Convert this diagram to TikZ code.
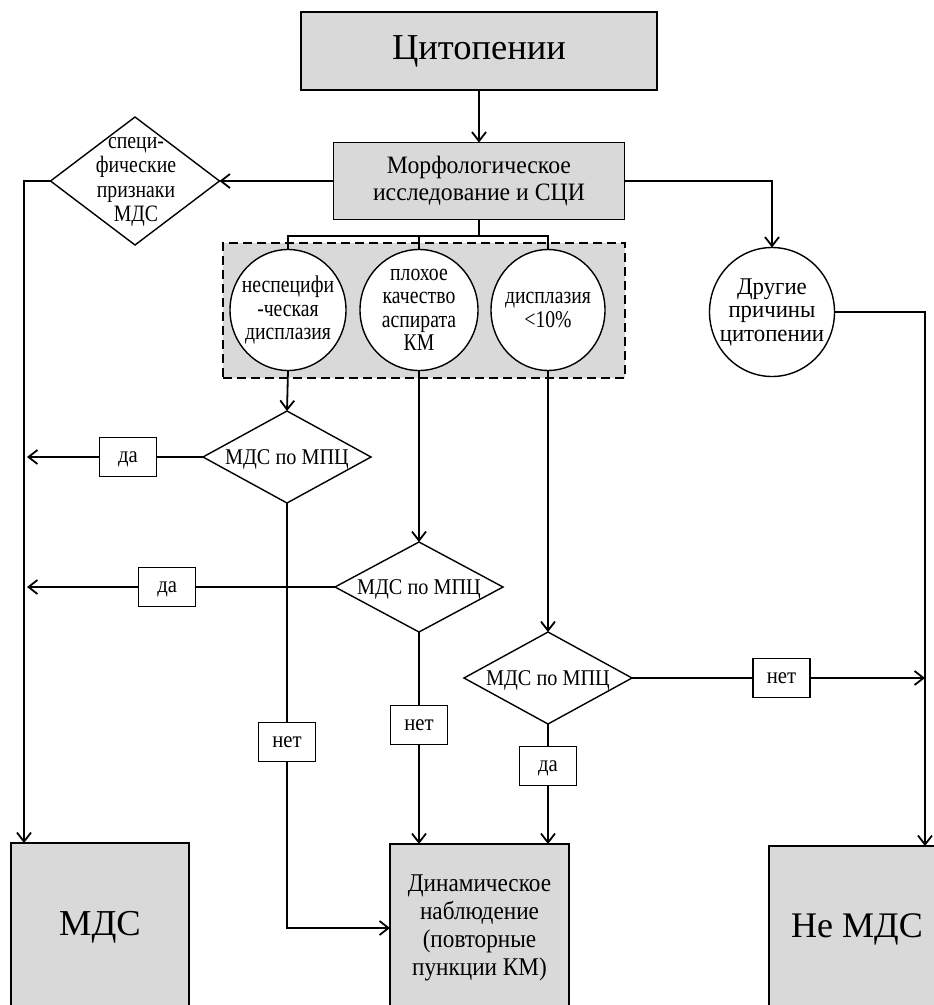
\documentclass[tikz,border=0pt]{standalone}
\usepackage{fontspec}
\setmainfont{Liberation Serif}
\newfontfamily\fmorph[FakeStretch=0.95]{Liberation Serif}
\newfontfamily\fcirc[FakeStretch=0.82]{Liberation Serif}
\newfontfamily\fcircw[FakeStretch=0.95]{Liberation Serif}
\newfontfamily\fdia[FakeStretch=0.9]{Liberation Serif}
\newfontfamily\fspec[FakeStretch=0.84]{Liberation Serif}
\newfontfamily\fdyn[FakeStretch=0.91]{Liberation Serif}
\usetikzlibrary{shapes.geometric,arrows.meta}
\definecolor{boxgray}{HTML}{D9D9D9}
\begin{document}
\begin{tikzpicture}[x=1pt,y=-1pt,
  box/.style={draw=black,line width=1.6pt,fill=boxgray,inner sep=0pt,outer sep=0pt,align=center},
  dia/.style={diamond,draw=black,line width=1.4pt,fill=white,inner sep=0pt,outer sep=0pt},
  circ/.style={ellipse,draw=black,line width=1.4pt,fill=white,inner sep=0pt,outer sep=0pt},
  ctxt/.style={align=center,inner sep=0pt,font=\fcirc\fontsize{24}{23.5}\selectfont},
  dtxt/.style={align=center,inner sep=0pt,text height=15pt,text depth=0pt,font=\fdia\fontsize{22.5}{24}\selectfont},
  lbl/.style={draw=black,fill=white,line width=1.3pt,minimum width=57pt,minimum height=39pt,inner sep=0pt,text height=10.5pt,text depth=0pt,font=\fdia\fontsize{23}{24}\selectfont},
  conn/.style={line width=1.8pt},
  arr/.style={line width=1.8pt,-{Straight Barb[length=9pt,width=14pt]}},
  grp/.style={draw=black,dash pattern=on 9pt off 5pt,line width=1.4pt,fill=boxgray,inner sep=0pt}
]
\clip (0,0) rectangle (934,1005);
\fill[white] (0,0) rectangle (934,1005);
\coordinate (lx) at (27,0);
\coordinate (rx) at (925,0);
% boxes
\node[box,minimum width=356pt,minimum height=78pt,font=\fontsize{36.5}{40}\selectfont] (top) at (479,51) {Цитопении};
\node[box,minimum width=291pt,minimum height=77pt,font=\fmorph\fontsize{25}{26.7}\selectfont] (morph) at (479,181) {Морфологическое\\исследование и СЦИ};
\node[box,minimum width=178pt,minimum height=169pt,font=\fontsize{36.5}{40}\selectfont] (mds) at (100,927.5) {МДС};
\node[box,minimum width=179pt,minimum height=168pt,font=\fdyn\fontsize{25.5}{28}\selectfont] (dyn) at (479.5,928) {Динамическое\\наблюдение\\(повторные\\пункции КМ)};
\node[box,minimum width=176pt,minimum height=166pt,font=\fontsize{36}{40}\selectfont] (nmds) at (857,929) {Не МДС};
% group
\node[grp,minimum width=402pt,minimum height=135pt] (grp) at (424,310.5) {};
% circles
\node[circ,minimum width=116pt,minimum height=121pt] (c1) at (288,310) {};
\node[ctxt] at (c1) {неспецифи\\-ческая\\дисплазия};
\node[circ,minimum width=118pt,minimum height=121pt] (c2) at (419,310) {};
\node[ctxt] at (c2) {плохое\\качество\\аспирата\\КМ};
\node[circ,minimum width=114pt,minimum height=121pt] (c3) at (548,310) {};
\node[ctxt] at (c3) {дисплазия\\<10\%};
\node[circ,minimum width=125pt,minimum height=129pt] (c4) at (772,312) {};
\node[ctxt,font=\fcircw\fontsize{24}{23.5}\selectfont] at (c4) {Другие\\причины\\цитопении};
% diamonds
\node[dia,minimum width=169pt,minimum height=128pt] (spec) at (135,181) {};
\node[align=center,inner sep=0pt,font=\fspec\fontsize{23.5}{24.5}\selectfont] at (136,182) {специ-\\фические\\признаки\\МДС};
\node[dia,minimum width=168pt,minimum height=92pt] (d1) at (287,457) {};
\node[dtxt] at (d1) {МДС по МПЦ};
\node[dia,minimum width=168pt,minimum height=90pt] (d2) at (419,587) {};
\node[dtxt] at (d2) {МДС по МПЦ};
\node[dia,minimum width=168pt,minimum height=92pt] (d3) at (548,678) {};
\node[dtxt] at (d3) {МДС по МПЦ};
% connectors
\draw[arr] (top.south) -- (morph.north);
\draw[arr] (morph.west) -- (spec.east);
\draw[arr] (spec.west) -| ([xshift=13pt]mds.north west);
\coordinate (br) at (479,236);
\draw[conn] (morph.south) -- (br);
\draw[conn] (c1.north) |- (br);
\draw[conn] (c3.north) |- (br);
\draw[conn] (c2.north) -- (c2.north |- br);
\draw[arr] (morph.east) -| (c4.north);
\draw[arr] (c4.east) -| (nmds.north -| rx);
\draw[arr] (c1.south) -- (d1.north);
\draw[arr] (d1.west) -- node[lbl,pos=0.426] {да} (d1.west -| lx);
\draw[arr] (d1.south) |- node[lbl,pos=0.281] {нет} (dyn.west);
\draw[arr] (c2.south) -- (d2.north);
\draw[arr] (d2.west) -- node[lbl,pos=0.545] {да} (d2.west -| lx);
\draw[arr] (d2.south) -- node[lbl,pos=0.44] {нет} (dyn.north -| d2.south);
\draw[arr] (c3.south) -- (d3.north);
\draw[arr] (d3.east) -- node[lbl,pos=0.51] {нет} (d3.east -| rx);
\draw[arr] (d3.south) -- node[lbl,pos=0.35] {да} (dyn.north -| d3.south);
\end{tikzpicture}
\end{document}
